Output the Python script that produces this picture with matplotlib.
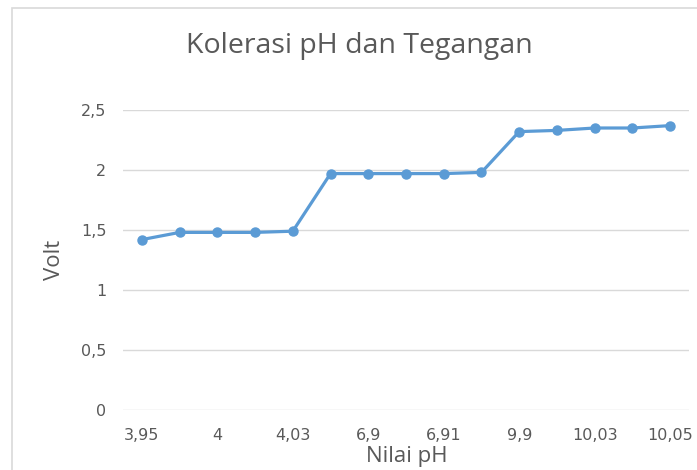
"""Line chart: korelasi nilai pH dan tegangan (Volt)."""

import matplotlib.pyplot as plt
from matplotlib.patches import Rectangle

PH_LABELS = ["3,95", "3,97", "4", "4,01", "4,03", "6,88", "6,9", "6,9",
             "6,91", "6,93", "9,9", "9,95", "10,03", "10,04", "10,05"]
VOLT = [1.42, 1.48, 1.48, 1.48, 1.49, 1.97, 1.97, 1.97,
        1.97, 1.98, 2.32, 2.33, 2.35, 2.35, 2.37]
Y_TICKS = [0, 0.5, 1, 1.5, 2, 2.5]

LINE_COLOR = "#5B9BD5"
TEXT_COLOR = "#595959"
GRID_COLOR = "#D9D9D9"
TITLE_FONT = ["Open Sans", "DejaVu Sans"]

plt.rcParams["font.family"] = ["DejaVu Sans"]

fig = plt.figure(figsize=(6.97, 4.70), dpi=100)
ax = fig.add_axes([123 / 697, 1 - 410 / 470, 566 / 697, 300 / 470])

# chart border (cropped on right and bottom)
fig.patches.append(Rectangle((12 / 697, -0.1), 1.2, 1 - 8 / 470 + 0.1,
                             transform=fig.transFigure, fill=False,
                             edgecolor="#D9D9D9", linewidth=1.2))

x = list(range(len(VOLT)))
ax.plot(x, VOLT, color=LINE_COLOR, linewidth=2.3, marker="o", markersize=6.5,
        solid_joinstyle="round", zorder=3)

ax.set_xlim(-0.5, len(VOLT) - 0.5)
ax.set_ylim(0, 2.5)
ax.set_yticks(Y_TICKS)
ax.set_yticklabels([f"{t:g}".replace(".", ",") for t in Y_TICKS])
ax.set_xticks(x[::2])
ax.set_xticklabels(PH_LABELS[::2])
ax.tick_params(length=0, colors=TEXT_COLOR, labelsize=11.5)
ax.tick_params(axis="x", pad=13)
ax.tick_params(axis="y", pad=12)
ax.grid(axis="y", color=GRID_COLOR, linewidth=1)
ax.set_axisbelow(True)
for s in ax.spines.values():
    s.set_visible(False)

fig.text(407 / 697, 1 - 462 / 470, "Nilai pH", ha="center", va="baseline",
         fontsize=16, color=TEXT_COLOR, family=TITLE_FONT)
fig.text(55 / 697, 1 - 260 / 470, "Volt", ha="center", va="center",
         rotation=90, fontsize=16, color=TEXT_COLOR, family=TITLE_FONT)
fig.text(359 / 697, 1 - 46 / 470, "Kolerasi pH dan Tegangan", ha="center",
         va="center", fontsize=20.5, color=TEXT_COLOR, family=TITLE_FONT)

fig.savefig("out.png", dpi=100)
